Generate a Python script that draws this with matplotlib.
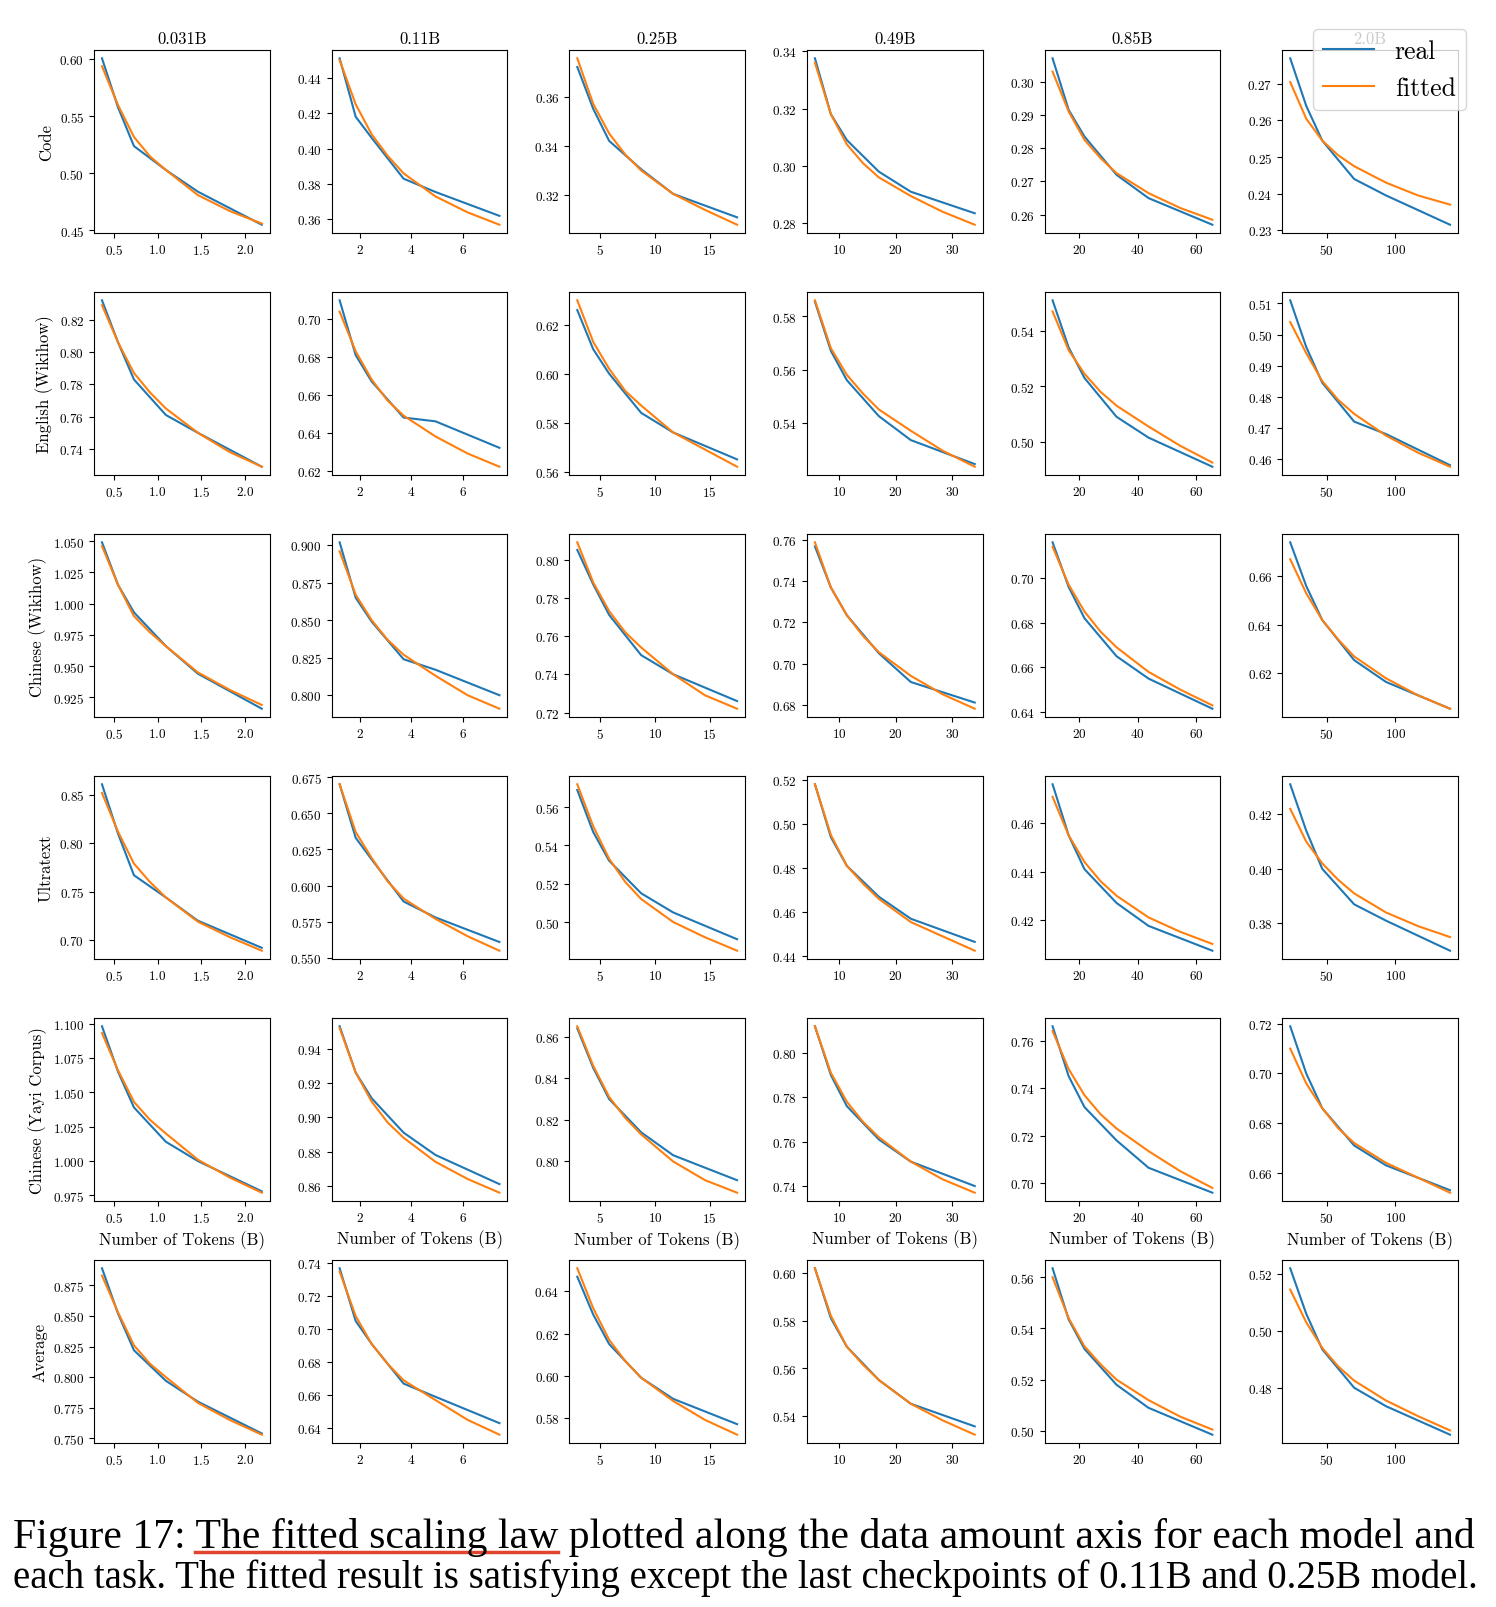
import matplotlib
matplotlib.use('Agg')
import matplotlib.pyplot as plt
from matplotlib.lines import Line2D

plt.rcParams['font.family'] = ['cmr10', 'DejaVu Serif']
plt.rcParams['mathtext.fontset'] = 'cm'
plt.rcParams['axes.formatter.use_mathtext'] = True
plt.rcParams['axes.unicode_minus'] = False

models = ['0.031B', '0.11B', '0.25B', '0.49B', '0.85B', '2.0B']
tasks = ['Code', 'English (Wikihow)', 'Chinese (Wikihow)', 'Ultratext',
         'Chinese (Yayi Corpus)', 'Average']

# x tick positions per model column
xticks_by_model = [
    [0.5, 1.0, 1.5, 2.0],
    [2, 4, 6],
    [5, 10, 15],
    [10, 20, 30],
    [20, 40, 60],
    [50, 100],
]

# checkpoint token counts (B) for each model
tokens_real = [
    [0.365, 0.548, 0.730, 1.095, 1.460, 2.190],
    [1.23, 1.85, 2.47, 3.70, 4.93, 7.40],
    [2.92, 4.375, 5.83, 8.75, 11.67, 17.5],
    [5.67, 8.5, 11.33, 17.0, 22.67, 34.0],
    [10.9, 16.4, 21.8, 32.75, 43.67, 65.5],
    [23.3, 35.0, 46.7, 70.0, 93.3, 140.0],
]
# token counts where the fitted curve is read
tokens_fit = [
    [0.365, 0.548, 0.730, 0.9125, 1.095, 1.460, 1.825, 2.190],
    [1.23, 1.85, 2.47, 3.08, 3.70, 4.93, 6.17, 7.40],
    [2.92, 4.375, 5.83, 7.29, 8.75, 11.67, 14.58, 17.5],
    [5.67, 8.5, 11.33, 14.17, 17.0, 22.67, 28.33, 34.0],
    [10.9, 16.4, 21.8, 27.3, 32.75, 43.67, 54.6, 65.5],
    [23.3, 35.0, 46.7, 58.3, 70.0, 93.3, 116.7, 140.0],
]

real_code = [
    [0.601, 0.558, 0.524, 0.503, 0.484, 0.455],
    [0.451, 0.418, 0.406, 0.383, 0.3755, 0.362],
    [0.372, 0.355, 0.342, 0.3305, 0.3205, 0.311],
    [0.3375, 0.318, 0.309, 0.298, 0.291, 0.2835],
    [0.307, 0.2915, 0.2835, 0.272, 0.265, 0.257],
    [0.277, 0.264, 0.2545, 0.244, 0.2395, 0.2315],
]
fit_code = [
    [0.594, 0.560, 0.532, 0.515, 0.503, 0.481, 0.467, 0.456],
    [0.450, 0.425, 0.408, 0.396, 0.386, 0.373, 0.364, 0.357],
    [0.3755, 0.357, 0.345, 0.3365, 0.330, 0.3205, 0.314, 0.308],
    [0.336, 0.318, 0.3075, 0.301, 0.296, 0.2895, 0.284, 0.2795],
    [0.303, 0.291, 0.2825, 0.277, 0.2725, 0.2665, 0.262, 0.2585],
    [0.2705, 0.2605, 0.2545, 0.2505, 0.2475, 0.243, 0.2395, 0.237],
]

real_en = [
    [0.832, 0.806, 0.783, 0.761, 0.750, 0.729],
    [0.710, 0.681, 0.667, 0.648, 0.646, 0.632],
    [0.626, 0.610, 0.600, 0.584, 0.576, 0.565],
    [0.5855, 0.567, 0.556, 0.5425, 0.5335, 0.5245],
    [0.551, 0.534, 0.523, 0.509, 0.5015, 0.491],
    [0.511, 0.496, 0.4845, 0.472, 0.468, 0.458],
]
fit_en = [
    [0.829, 0.806, 0.787, 0.775, 0.765, 0.750, 0.738, 0.729],
    [0.704, 0.683, 0.668, 0.657, 0.649, 0.638, 0.629, 0.622],
    [0.630, 0.613, 0.602, 0.593, 0.587, 0.576, 0.569, 0.562],
    [0.586, 0.568, 0.558, 0.551, 0.545, 0.537, 0.5295, 0.5235],
    [0.547, 0.533, 0.5245, 0.518, 0.513, 0.5055, 0.4985, 0.4925],
    [0.504, 0.494, 0.485, 0.479, 0.4745, 0.4675, 0.462, 0.4575],
]

real_zh = [
    [1.049, 1.015, 0.993, 0.966, 0.944, 0.916],
    [0.902, 0.865, 0.849, 0.824, 0.817, 0.800],
    [0.805, 0.787, 0.771, 0.750, 0.740, 0.726],
    [0.757, 0.737, 0.7235, 0.705, 0.691, 0.681],
    [0.716, 0.696, 0.682, 0.665, 0.655, 0.6415],
    [0.674, 0.656, 0.642, 0.6255, 0.6165, 0.6055],
]
fit_zh = [
    [1.046, 1.015, 0.990, 0.977, 0.966, 0.945, 0.931, 0.919],
    [0.896, 0.867, 0.850, 0.837, 0.827, 0.813, 0.800, 0.791],
    [0.809, 0.788, 0.773, 0.762, 0.754, 0.740, 0.729, 0.722],
    [0.759, 0.737, 0.7235, 0.7135, 0.7055, 0.694, 0.685, 0.678],
    [0.714, 0.697, 0.685, 0.676, 0.669, 0.658, 0.650, 0.643],
    [0.667, 0.653, 0.642, 0.634, 0.627, 0.618, 0.611, 0.6055],
]

real_ultra = [
    [0.861, 0.810, 0.767, 0.744, 0.720, 0.692],
    [0.670, 0.633, 0.618, 0.589, 0.578, 0.561],
    [0.569, 0.547, 0.532, 0.515, 0.505, 0.491],
    [0.518, 0.494, 0.481, 0.467, 0.457, 0.4465],
    [0.4762, 0.455, 0.441, 0.427, 0.4175, 0.4072],
    [0.431, 0.414, 0.400, 0.387, 0.381, 0.370],
]
fit_ultra = [
    [0.852, 0.812, 0.779, 0.760, 0.744, 0.719, 0.703, 0.689],
    [0.670, 0.637, 0.619, 0.603, 0.591, 0.577, 0.565, 0.555],
    [0.572, 0.550, 0.533, 0.521, 0.512, 0.500, 0.492, 0.485],
    [0.518, 0.495, 0.481, 0.473, 0.466, 0.4555, 0.449, 0.4425],
    [0.471, 0.455, 0.444, 0.436, 0.430, 0.421, 0.415, 0.410],
    [0.422, 0.410, 0.402, 0.396, 0.391, 0.384, 0.379, 0.375],
]

real_yayi = [
    [1.098, 1.065, 1.039, 1.014, 1.000, 0.978],
    [0.953, 0.926, 0.911, 0.891, 0.878, 0.861],
    [0.864, 0.845, 0.830, 0.814, 0.803, 0.791],
    [0.812, 0.790, 0.776, 0.761, 0.751, 0.740],
    [0.766, 0.745, 0.732, 0.718, 0.7065, 0.696],
    [0.719, 0.700, 0.686, 0.671, 0.663, 0.653],
]
fit_yayi = [
    [1.093, 1.066, 1.043, 1.030, 1.020, 1.001, 0.988, 0.977],
    [0.952, 0.926, 0.909, 0.897, 0.888, 0.874, 0.864, 0.856],
    [0.865, 0.846, 0.831, 0.821, 0.813, 0.800, 0.791, 0.785],
    [0.812, 0.791, 0.778, 0.769, 0.762, 0.751, 0.743, 0.737],
    [0.764, 0.748, 0.737, 0.729, 0.723, 0.7135, 0.705, 0.698],
    [0.710, 0.696, 0.686, 0.678, 0.672, 0.664, 0.658, 0.652],
]

real_avg = [
    [0.889, 0.852, 0.822, 0.797, 0.780, 0.754],
    [0.737, 0.705, 0.691, 0.667, 0.659, 0.643],
    [0.647, 0.629, 0.615, 0.599, 0.589, 0.577],
    [0.602, 0.581, 0.569, 0.555, 0.545, 0.5355],
    [0.5635, 0.5435, 0.532, 0.518, 0.509, 0.4985],
    [0.522, 0.506, 0.4935, 0.480, 0.4735, 0.4635],
]
fit_avg = [
    [0.883, 0.853, 0.826, 0.811, 0.800, 0.779, 0.765, 0.753],
    [0.735, 0.708, 0.691, 0.679, 0.669, 0.657, 0.645, 0.636],
    [0.651, 0.632, 0.617, 0.607, 0.599, 0.588, 0.579, 0.572],
    [0.602, 0.582, 0.569, 0.5615, 0.555, 0.545, 0.538, 0.532],
    [0.560, 0.544, 0.533, 0.526, 0.520, 0.512, 0.5055, 0.5005],
    [0.5145, 0.503, 0.494, 0.4875, 0.4825, 0.4755, 0.470, 0.465],
]

real_rows = [real_code, real_en, real_zh, real_ultra, real_yayi, real_avg]
fit_rows = [fit_code, fit_en, fit_zh, fit_ultra, fit_yayi, fit_avg]

caption_1 = "Figure 17: The fitted scaling law plotted along the data amount axis for each model and"
caption_2 = "each task. The fitted result is satisfying except the last checkpoints of 0.11B and 0.25B model."
underlined = "The fitted scaling law"

W, H = 1496, 1608
fig, axes = plt.subplots(6, 6, figsize=(W / 100, H / 100), dpi=100)
fig.subplots_adjust(left=94 / W, right=1458 / W, top=1 - 51 / H, bottom=1 - 1444 / H,
                    wspace=0.352, hspace=0.322)

for r in range(6):
    for c in range(6):
        ax = axes[r, c]
        ax.plot(tokens_real[c], real_rows[r][c], color='#1f77b4', lw=1.5, label='real')
        ax.plot(tokens_fit[c], fit_rows[r][c], color='#ff7f0e', lw=1.5, label='fitted')
        ax.set_xticks(xticks_by_model[c])
        ax.tick_params(labelsize=9.5, length=3.5, width=0.8)
        if r == 0:
            ax.set_title(models[c], fontsize=12, pad=5)
        if c == 0:
            ax.set_ylabel(tasks[r], fontsize=12)
        if r == 4:
            ax.set_xlabel('Number of Tokens (B)', fontsize=12, labelpad=4)

handles = [Line2D([], [], color='#1f77b4', lw=1.5), Line2D([], [], color='#ff7f0e', lw=1.5)]
fig.legend(handles, ['real', 'fitted'], loc='upper right',
           bbox_to_anchor=(1466 / W, 1 - 30 / H), fontsize=18.5, framealpha=0.8,
           borderaxespad=0.0, handlelength=2.0)

# caption
renderer = fig.canvas.get_renderer()
cap_font = 'Liberation Serif'
x0 = 13
target_w = 1477 - x0
texts = []
for line, base_y in [(caption_1, 1548), (caption_2, 1588)]:
    t = fig.text(x0 / W, 1 - base_y / H, line, fontsize=20, family=cap_font,
                 va='baseline', ha='left')
    bb = t.get_window_extent(renderer)
    t.set_fontsize(20 * target_w / bb.width)
    texts.append(t)

fs1 = texts[0].get_fontsize()
tmp_a = fig.text(0, 0, "Figure 17: " + underlined, fontsize=fs1, family=cap_font)
tmp_b = fig.text(0, 0, underlined, fontsize=fs1, family=cap_font)
wa = tmp_a.get_window_extent(renderer).width
wb = tmp_b.get_window_extent(renderer).width
tmp_a.remove()
tmp_b.remove()
ux0 = x0 + wa - wb
ux1 = x0 + wa
uy = 1 - 1553 / H
fig.add_artist(Line2D([ux0 / W, ux1 / W], [uy, uy], color='#e0442e', lw=2.5,
                      transform=fig.transFigure))

fig.savefig('out.png', dpi=100)
